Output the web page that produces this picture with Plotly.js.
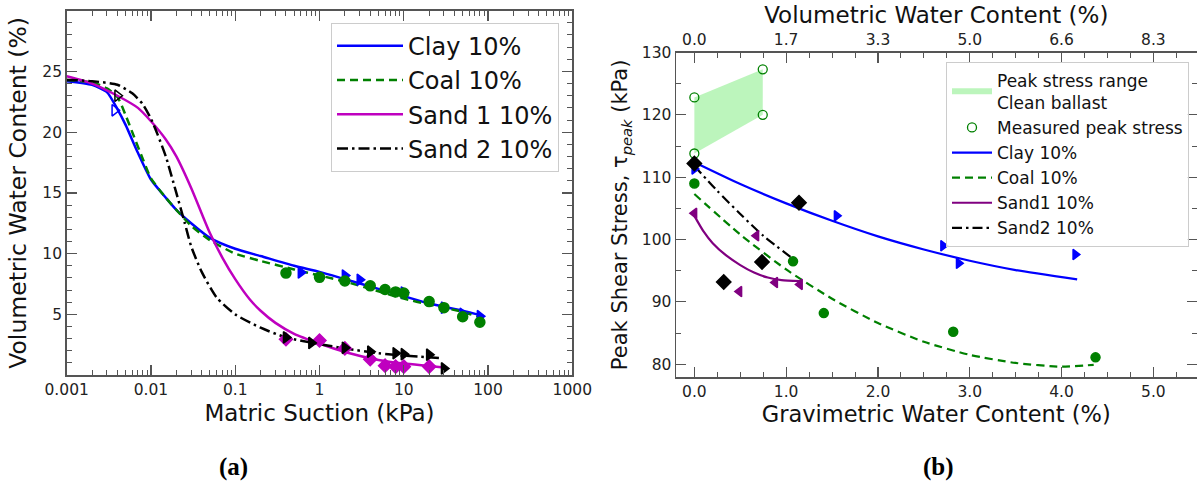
<!DOCTYPE html>
<html>
<head>
<meta charset="utf-8">
<script src="https://cdn.plot.ly/plotly-3.0.1.min.js"></script>
<style>
  html, body { margin: 0; padding: 0; background: #ffffff; }
  #chart { width: 1197px; height: 488px; }
</style>
</head>
<body>
<div id="chart"></div>
<script>
// ---------- (a) soil-water characteristic curves ----------
const clayCurveSuction = [0.001, 0.002, 0.003, 0.004, 0.005, 0.007, 0.01, 0.015, 0.02, 0.03, 0.05, 0.1, 0.2, 0.5, 1, 2, 5, 10, 20, 50, 85];
const clayCurveVwc     = [24.2, 23.9, 23.3, 21.9, 20.6, 18.3, 16.1, 14.6, 13.6, 12.5, 11.3, 10.4, 9.8, 9.0, 8.5, 7.9, 7.1, 6.5, 5.9, 5.3, 4.9];

const coalCurveSuction = [0.001, 0.002, 0.003, 0.004, 0.005, 0.006, 0.008, 0.01, 0.015, 0.02, 0.03, 0.05, 0.1, 0.2, 0.5, 1, 2, 5, 10, 20, 50, 85];
const coalCurveVwc     = [24.3, 24.1, 23.6, 22.9, 21.4, 20.0, 17.8, 16.2, 14.6, 13.6, 12.3, 11.1, 10.0, 9.4, 8.7, 8.2, 7.7, 6.9, 6.3, 5.8, 5.2, 4.7];

const sand1CurveSuction = [0.001, 0.002, 0.004, 0.007, 0.01, 0.015, 0.02, 0.03, 0.04, 0.05, 0.07, 0.1, 0.15, 0.2, 0.3, 0.5, 1, 2, 5, 10, 20, 32];
const sand1CurveVwc     = [24.6, 24.0, 23.0, 22.0, 20.9, 19.4, 18.0, 15.4, 13.3, 11.7, 9.7, 7.9, 6.2, 5.3, 4.3, 3.4, 2.6, 1.9, 1.25, 0.95, 0.75, 0.6];

const sand2CurveSuction = [0.001, 0.002, 0.004, 0.006, 0.008, 0.01, 0.012, 0.015, 0.02, 0.025, 0.03, 0.04, 0.06, 0.1, 0.2, 0.4, 1, 2, 5, 10, 28];
const sand2CurveVwc     = [24.3, 24.2, 23.9, 23.2, 22.3, 21.1, 19.8, 18.0, 15.0, 12.6, 10.6, 8.5, 6.4, 5.0, 3.9, 3.1, 2.55, 2.2, 1.8, 1.6, 1.4];

// measured points
const clayPtSuction  = [0.6, 2, 3, 10, 30, 50, 80];
const clayPtVwc      = [8.45, 8.2, 7.85, 6.8, 5.55, 5.05, 4.85];
const coalPtSuction  = [0.4, 1, 2, 4, 6, 8, 10, 20, 30, 50, 80];
const coalPtVwc      = [8.4, 8.05, 7.75, 7.35, 7.05, 6.85, 6.75, 6.05, 5.55, 4.8, 4.35];
const sand1PtSuction = [0.4, 1, 2, 4, 6, 8, 10, 20];
const sand1PtVwc     = [2.95, 2.85, 2.2, 1.3, 0.78, 0.7, 0.7, 0.7];
const sand2PtSuction = [0.4, 0.8, 2, 4, 8, 10, 20, 30];
const sand2PtVwc     = [3.1, 2.65, 2.25, 1.93, 1.8, 1.72, 1.68, 0.55];
// first (low-suction) readings, open symbols
const clayStartSuction = [0.0037];
const clayStartVwc     = [21.8];
const sand2StartSuction = [0.004];
const sand2StartVwc     = [23.0];

const suctionTickVals = [0.001, 0.01, 0.1, 1, 10, 100, 1000];
const suctionTickText = ['0.001', '0.01', '0.1', '1', '10', '100', '1000'];
const vwcTickVals = [5, 10, 15, 20, 25];

// ---------- (b) peak shear stress vs water content ----------
const ballastGwc    = [0, 0, 0.745, 0.745];
const ballastStress = [113.8, 122.8, 127.3, 120.0];

const clayFitGwc    = [0, 0.5, 1, 1.5, 2, 2.5, 3, 3.5, 4.17];
const clayFitStress = [112.4, 108.9, 105.8, 103.0, 100.5, 98.4, 96.6, 95.1, 93.6];
const coalFitGwc    = [0, 0.5, 1, 1.5, 2, 2.5, 3, 3.5, 4, 4.35];
const coalFitStress = [107.3, 100.8, 95.2, 90.5, 86.6, 83.6, 81.5, 80.2, 79.6, 79.9];
const sand1FitGwc    = [0, 0.1, 0.2, 0.35, 0.5, 0.65, 0.8, 0.95, 1.15];
const sand1FitStress = [103.8, 101.3, 99.4, 97.4, 95.9, 94.7, 93.9, 93.5, 93.35];
const sand2FitGwc    = [0, 0.25, 0.5, 0.75, 1.12];
const sand2FitStress = [111.8, 107.8, 104.1, 100.6, 96.4];

const clayTestGwc    = [0, 1.55, 2.71, 2.88, 4.15];
const clayTestStress = [111.3, 103.8, 99.0, 96.2, 97.6];
const coalTestGwc    = [0, 1.075, 1.41, 2.82, 4.37];
const coalTestStress = [109.0, 96.5, 88.2, 85.2, 81.1];
const sand1TestGwc    = [0, 0.49, 0.675, 0.88, 1.15];
const sand1TestStress = [104.2, 91.65, 100.6, 93.1, 92.8];
const sand2TestGwc    = [0, 0.32, 0.737, 1.14];
const sand2TestStress = [112.2, 93.2, 96.4, 105.9];

const gwcTickVals = [0, 1, 2, 3, 4, 5];
const gwcTickText = ['0.0', '1.0', '2.0', '3.0', '4.0', '5.0'];
const volTickText = ['0.0', '1.7', '3.3', '5.0', '6.6', '8.3'];
const stressTickVals = [80, 90, 100, 110, 120, 130];

// ---------- styling ----------
const FONT = 'DejaVu Sans, sans-serif';
const AX = '#555555';
const BLUE = '#0000ff', GREEN = '#008000', MAGENTA = '#bf00bf', PURPLE = '#800080', BLACK = '#000000';

// minor tick positions on the log axis: 2..9 in each decade
const logMinor = [];
for (let e = -3; e < 3; e++) {
  for (let d = 2; d <= 9; d++) logMinor.push(d * Math.pow(10, e));
}

function line(x, y, color, dash, name, xa, ya, lg, width) {
  return {
    type: 'scatter', mode: 'lines', x: x, y: y, name: name,
    xaxis: xa, yaxis: ya, legend: lg, hoverinfo: 'skip',
    line: { color: color, width: width, dash: dash, shape: 'spline', smoothing: 0.6 }
  };
}
function pts(x, y, color, symbol, size, xa, ya) {
  return {
    type: 'scatter', mode: 'markers', x: x, y: y, xaxis: xa, yaxis: ya,
    showlegend: false, hoverinfo: 'skip',
    marker: { color: color, symbol: symbol, size: size, line: { color: color, width: 1.5 } }
  };
}

const traces = [
  // (a)
  line(clayCurveSuction, clayCurveVwc, BLUE, 'solid', 'Clay 10%', 'x', 'y', 'legend', 2.5),
  line(coalCurveSuction, coalCurveVwc, GREEN, '8px,5px', 'Coal 10%', 'x', 'y', 'legend', 2.5),
  line(sand1CurveSuction, sand1CurveVwc, MAGENTA, 'solid', 'Sand 1 10%', 'x', 'y', 'legend', 2.5),
  line(sand2CurveSuction, sand2CurveVwc, BLACK, '11px,4px,2.5px,4px', 'Sand 2 10%', 'x', 'y', 'legend', 2.5),
  pts(clayStartSuction, clayStartVwc, BLUE, 'triangle-right-open', 10, 'x', 'y'),
  pts(sand2StartSuction, sand2StartVwc, BLACK, 'triangle-right-open', 10, 'x', 'y'),
  pts(clayPtSuction, clayPtVwc, BLUE, 'triangle-right', 10, 'x', 'y'),
  pts(coalPtSuction, coalPtVwc, GREEN, 'circle', 10, 'x', 'y'),
  pts(sand1PtSuction, sand1PtVwc, MAGENTA, 'diamond', 10, 'x', 'y'),
  pts(sand2PtSuction, sand2PtVwc, BLACK, 'triangle-right', 10, 'x', 'y'),

  // (b)
  {
    type: 'scatter', mode: 'none', x: ballastGwc, y: ballastStress, fill: 'toself',
    fillcolor: 'rgba(144,238,144,0.6)', xaxis: 'x2', yaxis: 'y2', legend: 'legend2',
    name: 'Peak stress range<br>Clean ballast', hoverinfo: 'skip'
  },
  {
    type: 'scatter', mode: 'markers', x: ballastGwc, y: ballastStress, xaxis: 'x2', yaxis: 'y2',
    legend: 'legend2', name: 'Measured peak stress', hoverinfo: 'skip',
    marker: { symbol: 'circle-open', color: GREEN, size: 9, line: { color: GREEN, width: 1.3 } }
  },
  line(clayFitGwc, clayFitStress, BLUE, 'solid', 'Clay 10%', 'x2', 'y2', 'legend2', 2.2),
  line(coalFitGwc, coalFitStress, GREEN, '8px,5px', 'Coal 10%', 'x2', 'y2', 'legend2', 2.2),
  line(sand1FitGwc, sand1FitStress, PURPLE, 'solid', 'Sand1 10%', 'x2', 'y2', 'legend2', 2.2),
  line(sand2FitGwc, sand2FitStress, BLACK, '10px,4px,2.5px,4px', 'Sand2 10%', 'x2', 'y2', 'legend2', 2.2),
  pts(clayTestGwc, clayTestStress, BLUE, 'triangle-right', 9, 'x2', 'y2'),
  pts(coalTestGwc, coalTestStress, GREEN, 'circle', 9, 'x2', 'y2'),
  pts(sand1TestGwc, sand1TestStress, PURPLE, 'triangle-left', 9, 'x2', 'y2'),
  pts(sand2TestGwc, sand2TestStress, BLACK, 'diamond', 11, 'x2', 'y2'),
  // keeps the top (volumetric) axis attached to panel (b)
  { type: 'scatter', mode: 'markers', x: [], y: [], xaxis: 'x3', yaxis: 'y2', showlegend: false, hoverinfo: 'skip' }
];

const tickFont = { family: FONT, size: 15.5, color: '#222222' };
function tFont(size) { return { family: FONT, size: size, color: '#111111' }; }

function baseAxis(extra) {
  return Object.assign({
    showgrid: false, zeroline: false, showline: true, linecolor: AX, linewidth: 1.5,
    ticks: 'inside', ticklen: 10, tickwidth: 1.2, tickcolor: AX, tickfont: tickFont,
    automargin: false, fixedrange: true
  }, extra);
}

const layout = {
  width: 1197, height: 488,
  margin: { l: 0, r: 0, t: 0, b: 0 },
  paper_bgcolor: '#ffffff', plot_bgcolor: '#ffffff',
  font: { family: FONT, color: '#111111' },
  showlegend: true,
  xaxis: baseAxis({
    domain: [66.7 / 1197, 572.3 / 1197], anchor: 'y', type: 'log', range: [-3, 3],
    tickmode: 'array', tickvals: suctionTickVals, ticktext: suctionTickText, mirror: 'ticks',
    minor: { tickmode: 'array', tickvals: logMinor, ticks: 'inside', ticklen: 5, tickwidth: 1, tickcolor: AX },
    title: { text: 'Matric Suction (kPa)', font: tFont(23), standoff: 6 }
  }),
  yaxis: baseAxis({
    domain: [(488 - 375.1) / 488, (488 - 10.7) / 488], anchor: 'x', range: [0, 30],
    tickmode: 'array', tickvals: vwcTickVals, mirror: 'ticks',
    minor: { dtick: 1, tick0: 0, ticks: 'inside', ticklen: 5, tickwidth: 1, tickcolor: AX },
    title: { text: 'Volumetric Water Content (%)', font: tFont(23.5), standoff: 9 }
  }),
  xaxis2: baseAxis({
    domain: [676 / 1197, 1196.5 / 1197], anchor: 'y2', range: [-0.2, 5.47],
    tickmode: 'array', tickvals: gwcTickVals, ticktext: gwcTickText,
    minor: { dtick: 0.25, tick0: 0, ticks: 'inside', ticklen: 5, tickwidth: 1, tickcolor: AX },
    title: { text: 'Gravimetric Water Content (%)', font: tFont(22.5), standoff: 4 }
  }),
  xaxis3: baseAxis({
    overlaying: 'x2', anchor: 'y2', side: 'top', range: [-0.2, 5.47],
    tickmode: 'array', tickvals: gwcTickVals, ticktext: volTickText,
    minor: { dtick: 0.25, tick0: 0, ticks: 'inside', ticklen: 5, tickwidth: 1, tickcolor: AX },
    title: { text: 'Volumetric Water Content (%)', font: tFont(23), standoff: 0 }
  }),
  yaxis2: baseAxis({
    domain: [(488 - 377.3) / 488, (488 - 52.5) / 488], anchor: 'x2', range: [77.9, 130],
    tickmode: 'array', tickvals: stressTickVals, mirror: 'ticks',
    minor: { dtick: 5, tick0: 0, ticks: 'inside', ticklen: 5, tickwidth: 1, tickcolor: AX },
    title: { text: 'Peak Shear Stress, τ<sub><i>peak</i></sub> (kPa)', font: tFont(21), standoff: 8 }
  }),
  legend: {
    x: 559 / 1197, xanchor: 'right', y: (488 - 22.7) / 488, yanchor: 'top',
    bgcolor: 'rgba(255,255,255,0.85)', bordercolor: '#cccccc', borderwidth: 1,
    font: { family: FONT, size: 24, color: '#111111' }, itemwidth: 66
  },
  legend2: {
    x: 1189 / 1197, xanchor: 'right', y: (488 - 61.7) / 488, yanchor: 'top',
    bgcolor: 'rgba(255,255,255,0.85)', bordercolor: '#cccccc', borderwidth: 1,
    font: { family: FONT, size: 17, color: '#111111' }, itemwidth: 40
  },
  annotations: [
    { text: '<b>(a)</b>', x: 233 / 1197, y: (488 - 467) / 488, xref: 'paper', yref: 'paper',
      showarrow: false, xanchor: 'center', yanchor: 'middle',
      font: { family: 'Liberation Serif, Times New Roman, serif', size: 25, color: '#000000' } },
    { text: '<b>(b)</b>', x: 938 / 1197, y: (488 - 467) / 488, xref: 'paper', yref: 'paper',
      showarrow: false, xanchor: 'center', yanchor: 'middle',
      font: { family: 'Liberation Serif, Times New Roman, serif', size: 25, color: '#000000' } }
  ]
};

Plotly.newPlot('chart', traces, layout, { staticPlot: true, displayModeBar: false });
</script>
</body>
</html>
